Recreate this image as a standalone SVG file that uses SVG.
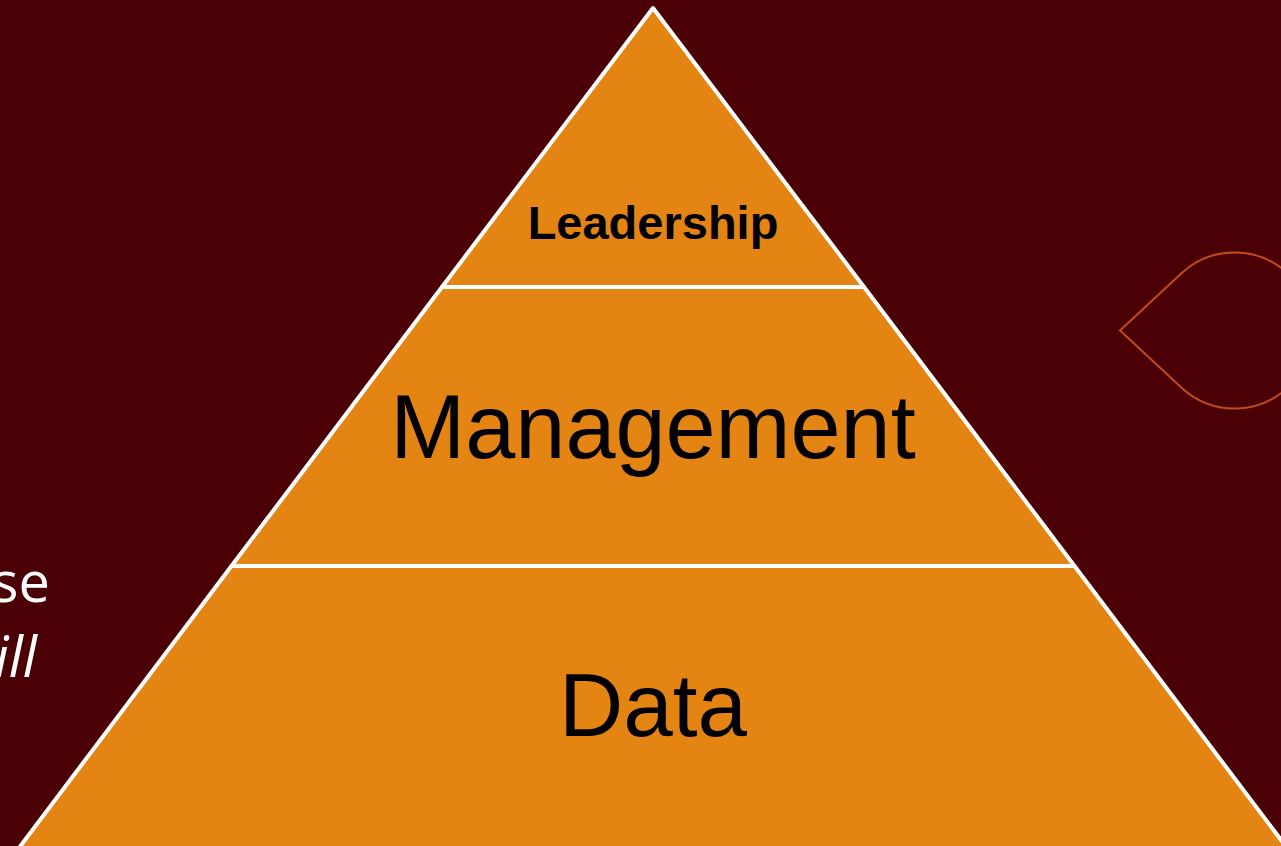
<svg xmlns="http://www.w3.org/2000/svg" width="1281" height="846" viewBox="0 0 1281 846">
  <style>
    .tier { fill: #E48413; stroke: #FFFFFF; stroke-width: 4; stroke-linejoin: round; }
    .lbl { font-family: "Liberation Sans", Arial, sans-serif; fill: #000000; text-anchor: middle; }
    .side { font-family: "Open Sans", "Noto Sans", sans-serif; fill: #FFFFFF; text-anchor: end; font-size: 56px; }
  </style>
  <rect x="0" y="0" width="1281" height="846" fill="#4A0005"/>
  <g id="leaf">
    <path d="M1120,330.5 L1182.1,272.7 A78,78 0 1,1 1182.1,388.3 Z" fill="none" stroke="#C24A1C" stroke-width="2"/>
  </g>
  <g id="side-text">
    <text class="side" x="50" y="602">se</text>
    <text class="side" x="37" y="677" font-style="italic">ill</text>
  </g>
  <g id="tier-data">
    <polygon class="tier" points="231.5,566 1074.5,566 1288.6,850 17.4,850"/>
    <text class="lbl" x="653" y="736" font-size="89">Data</text>
  </g>
  <g id="tier-management">
    <polygon class="tier" points="442,287 864,287 1074.5,566 231.5,566"/>
    <text class="lbl" x="653" y="458" font-size="90">Management</text>
  </g>
  <g id="tier-leadership">
    <polygon class="tier" points="653,8 864,287 442,287"/>
    <text class="lbl" x="653" y="239" font-size="47" font-weight="bold">Leadership</text>
  </g>
  <g id="connectors"></g>
</svg>
